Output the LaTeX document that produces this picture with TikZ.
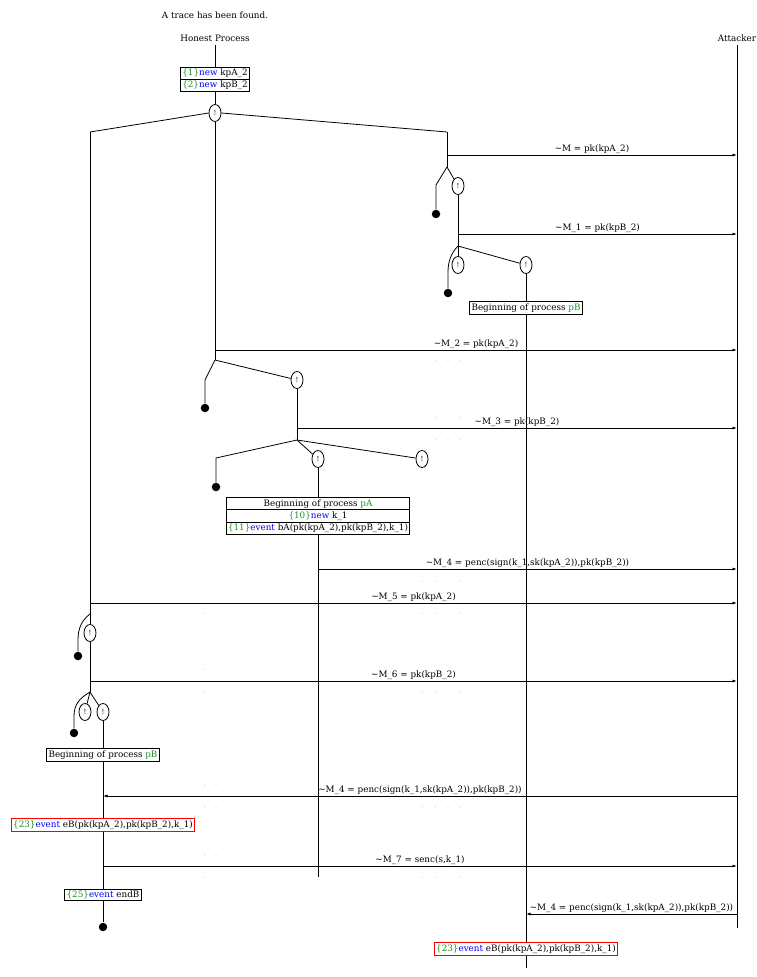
\documentclass[tikz,border=0pt]{standalone}
\usepackage{fontspec}
\setmainfont{DejaVu Serif}
\usetikzlibrary{arrows.meta,shapes.geometric,shapes.multipart}
\definecolor{idgreen}{RGB}{34,139,34}
\definecolor{kwblue}{RGB}{0,0,255}
\definecolor{faint}{RGB}{200,200,200}
\newcommand{\stepid}[1]{\textcolor{idgreen}{\{#1\}}}
\newcommand{\kw}[1]{\textcolor{kwblue}{#1}}
\newcommand{\procname}[1]{\textcolor{idgreen}{#1}}
\begin{document}
\begin{tikzpicture}[x=1pt,y=-1pt,
  every node/.style={font=\fontsize{8.8}{10}\selectfont},
  every path/.style={line width=0.8pt},
  bang/.style={ellipse,draw,minimum width=12pt,minimum height=17pt,inner sep=0pt,
    font=\fontsize{7}{7}\selectfont},
  stop/.style={circle,fill,inner sep=0pt,minimum size=8.5pt},
  evbox/.style={draw,inner sep=1.8pt},
  evred/.style={evbox,draw=red},
  splitbox/.style={draw,rectangle split,rectangle split parts=#1,align=center,inner sep=1.4pt},
  msg/.style={-{Latex[length=4.5pt,width=3pt]}},
  msglbl/.style={midway,above,inner sep=1pt},
  fdot/.style={fill=faint,draw=none}]
\useasboundingbox (0,0) rectangle (756,977);

% headings
\node (title) at (215,15) {A trace has been found.};
\node (hp) at (215,38) {Honest Process};
\node (att) at (737,38) {Attacker};
\coordinate (hpTop) at (215,45);
\coordinate (attTop) at (737,45);
\coordinate (attEnd) at (737,928);
\draw (attTop) -- (attEnd);

% initial names
\node[splitbox=2] (init) at (215,79.5)
  {\stepid{1}\kw{new} kpA\_2\nodepart{two}\stepid{2}\kw{new} kpB\_2};
\draw (hpTop) -- (init.north);
\node[bang] (b0) at (215,113) {!};
\draw (init.south) -- (b0.north);
\coordinate (lA) at (90,132);
\coordinate (rA) at (447,132);
\draw (b0.west) -- (lA);
\draw (b0.east) -- (rA);

% right branch
\coordinate (s1) at (447,167);
\draw (rA) -- (s1);
\coordinate (m0a) at (447,155); \coordinate (m0b) at (737,155);
\draw[msg] (m0a) -- (m0b) node[msglbl] {\textasciitilde M = pk(kpA\_2)};
\coordinate (s1l) at (436,185);
\node[stop] (d1) at (436,214) {};
\node[bang] (b1) at (458,186) {!};
\draw (s1) -- (s1l) -- (d1);
\draw (s1) -- (b1);
\coordinate (s2) at (458,246);
\draw (b1) -- (s2);
\coordinate (m1a) at (458,234); \coordinate (m1b) at (737,234);
\draw[msg] (m1a) -- (m1b) node[msglbl] {\textasciitilde M\_1 = pk(kpB\_2)};
\node[stop] (d2) at (448,293) {};
\node[bang] (b2) at (458,265) {!};
\node[bang] (b3) at (526,265) {!};
\coordinate (s2l) at (448,272);
\draw (s2) .. controls (451,253) and (448,262) .. (s2l) -- (d2);
\draw (s2) -- (b2);
\draw (s2) -- (b3);
\node[evbox] (pB1) at (526,308) {Beginning of process \procname{pB}};
\draw (b3) -- (pB1);
\node[evred] (eB2) at (526,949)
  {\stepid{23}\kw{event} eB(pk(kpA\_2),pk(kpB\_2),k\_1)};
\draw (pB1) -- (eB2);
\coordinate (pB1end) at (526,968);
\draw (eB2) -- (pB1end);
\coordinate (m9a) at (737,914); \coordinate (m9b) at (526,914);
\draw[msg] (m9a) -- (m9b) node[msglbl] {\textasciitilde M\_4 = penc(sign(k\_1,sk(kpA\_2)),pk(kpB\_2))};

% middle branch
\coordinate (s3) at (215,360);
\draw (b0) -- (s3);
\coordinate (m2a) at (215,350); \coordinate (m2b) at (737,350);
\draw[msg] (m2a) -- (m2b) node[msglbl] {\textasciitilde M\_2 = pk(kpA\_2)};
\coordinate (s3l) at (205,380);
\node[stop] (d3) at (205,408) {};
\node[bang] (b4) at (297,380) {!};
\draw (s3) -- (s3l) -- (d3);
\draw (s3) -- (b4);
\coordinate (s4) at (297,440);
\draw (b4) -- (s4);
\coordinate (m3a) at (297,428); \coordinate (m3b) at (737,428);
\draw[msg] (m3a) -- (m3b) node[msglbl] {\textasciitilde M\_3 = pk(kpB\_2)};
\coordinate (s4l) at (216,458);
\node[stop] (d4) at (216,487) {};
\node[bang] (b5) at (318,459) {!};
\node[bang] (b6) at (422,459) {!};
\draw (s4) -- (s4l) -- (d4);
\draw (s4) -- (b5);
\draw (s4) -- (b6);
\node[splitbox=3] (pA) at (318,516)
  {Beginning of process \procname{pA}\nodepart{two}\stepid{10}\kw{new} k\_1
   \nodepart{three}\stepid{11}\kw{event} bA(pk(kpA\_2),pk(kpB\_2),k\_1)};
\draw (b5) -- (pA);
\coordinate (pAend) at (318,877);
\draw (pA) -- (pAend);
\coordinate (m4a) at (318,569); \coordinate (m4b) at (737,569);
\draw[msg] (m4a) -- (m4b) node[msglbl] {\textasciitilde M\_4 = penc(sign(k\_1,sk(kpA\_2)),pk(kpB\_2))};

% left branch
\coordinate (s5) at (90,614);
\draw (lA) -- (s5);
\coordinate (m5a) at (90,603); \coordinate (m5b) at (737,603);
\draw[msg] (m5a) -- (m5b) node[msglbl] {\textasciitilde M\_5 = pk(kpA\_2)};
\node[stop] (d5) at (78,656) {};
\node[bang] (b7) at (90,633) {!};
\coordinate (s5l) at (78,640);
\draw (s5) .. controls (82,620) and (78,628) .. (s5l) -- (d5);
\draw (s5) -- (b7);
\coordinate (s6) at (90,692);
\draw (b7) -- (s6);
\coordinate (m6a) at (90,681); \coordinate (m6b) at (737,681);
\draw[msg] (m6a) -- (m6b) node[msglbl] {\textasciitilde M\_6 = pk(kpB\_2)};
\node[stop] (d6) at (74,733) {};
\node[bang] (b8) at (85,712) {!};
\node[bang] (b9) at (103,712) {!};
\coordinate (s6l) at (74,716);
\draw (s6) .. controls (80,698) and (74,704) .. (s6l) -- (d6);
\draw (s6) -- (b8);
\draw (s6) -- (b9);
\node[evbox] (pB2) at (103,755) {Beginning of process \procname{pB}};
\node[evred] (eB1) at (103,825)
  {\stepid{23}\kw{event} eB(pk(kpA\_2),pk(kpB\_2),k\_1)};
\node[evbox] (endB) at (103,895) {\stepid{25}\kw{event} endB};
\node[stop] (d7) at (103,927) {};
\draw (b9) -- (pB2) -- (eB1) -- (endB) -- (d7);
\coordinate (m7a) at (737,796); \coordinate (m7b) at (103,796);
\draw[msg] (m7a) -- (m7b) node[msglbl] {\textasciitilde M\_4 = penc(sign(k\_1,sk(kpA\_2)),pk(kpB\_2))};
\coordinate (m8a) at (103,866); \coordinate (m8b) at (737,866);
\draw[msg] (m8a) -- (m8b) node[msglbl] {\textasciitilde M\_7 = senc(s,k\_1)};

% faint dot rows around the message lines
\foreach \y in {361,418,439} \foreach \x in {436,448,460}
  \fill[fdot] (\x,\y) circle (0.6);
\foreach \y in {581,613,692,807,877} \foreach \x in {422,435,448,460}
  \fill[fdot] (\x,\y) circle (0.6);
\foreach \y in {592,613,669,692,785,807,855,877} \foreach \x in {205,216}
  \fill[fdot] (\x,\y) circle (0.6);
\end{tikzpicture}
\end{document}
